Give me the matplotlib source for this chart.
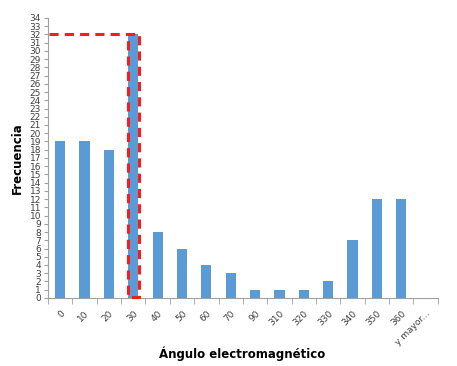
import numpy as np
import matplotlib.pyplot as plt
from matplotlib.ticker import FixedLocator

# data
categorias = ['0', '10', '20', '30', '40', '50', '60', '70', '90', '310',
              '320', '330', '340', '350', '360', 'y mayor...']
frecuencias = [19, 19, 18, 32, 8, 6, 4, 3, 1, 1, 1, 2, 7, 12, 12, 0]

fig = plt.figure(figsize=(4.57, 3.66), dpi=100)
ax = fig.add_axes([0.105, 0.186, 0.853, 0.765])

x = np.arange(len(categorias))
ax.bar(x, frecuencias, width=0.42, color='#5B9BD5', zorder=2)

ax.set_xlim(-0.5, len(categorias) - 0.5)
ax.set_ylim(0, 34)
ax.set_yticks(range(0, 35))
ax.tick_params(axis='y', labelsize=6.5, labelcolor='#404040', length=3, color='#A0A0A0', pad=2)

ax.set_xticks(x)
ax.set_xticklabels(categorias, rotation=45, ha='right', rotation_mode='anchor',
                   fontsize=6.5, color='#404040')
ax.tick_params(axis='x', which='major', length=0, pad=8)
ax.xaxis.set_minor_locator(FixedLocator(np.arange(-0.5, len(categorias), 1)))
ax.tick_params(axis='x', which='minor', length=4, color='#A0A0A0')

for s in ['top', 'right']:
    ax.spines[s].set_visible(False)
for s in ['left', 'bottom']:
    ax.spines[s].set_color('#A0A0A0')
    ax.spines[s].set_linewidth(0.8)

# red dashed highlight around the 30 bin
xs = [-0.45, 3.22, 3.22, 2.8, 2.8]
ys = [32.1, 32.1, 0.1, 0.1, 32.1]
ax.plot(xs, ys, color='#FF1A1A', linestyle=(0, (3, 2)), linewidth=2.2,
        clip_on=False, zorder=3)

fig.text(0.53, 0.033, 'Ángulo electromagnético', fontsize=8.5, fontweight='bold',
         ha='center', va='center')
ax.set_ylabel('Frecuencia', fontsize=8.5, fontweight='bold', labelpad=4)

fig.savefig('out.png', dpi=100)
